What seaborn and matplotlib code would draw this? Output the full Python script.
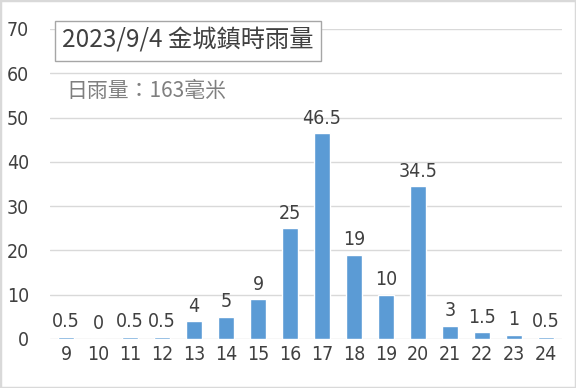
import matplotlib
matplotlib.use("Agg")
import matplotlib.pyplot as plt
from matplotlib import font_manager
from matplotlib.patches import Rectangle
import seaborn as sns
import pandas as pd

hours = ["9", "10", "11", "12", "13", "14", "15", "16",
         "17", "18", "19", "20", "21", "22", "23", "24"]
rain = [0.5, 0, 0.5, 0.5, 4, 5, 9, 25, 46.5, 19, 10, 34.5, 3, 1.5, 1, 0.5]
yticks = [0, 10, 20, 30, 40, 50, 60, 70]
title = "2023/9/4 金城鎮時雨量"
subtitle = "日雨量：163毫米"

df = pd.DataFrame({"hour": hours, "rain": rain})

sns.set_theme(style="white")
plt.rcParams["font.family"] = ["Noto Sans CJK TC", "DejaVu Sans"]

fonts = font_manager.fontManager.ttflist
names = {f.name for f in fonts}
if "Liberation Sans Narrow" in names:
    num_font = dict(family="Liberation Sans Narrow")
else:
    num_font = dict(family="DejaVu Sans", stretch="condensed")

text_col = "#404040"
fig = plt.figure(figsize=(5.76, 3.88), dpi=100)
ax = fig.add_axes([50 / 576, 1 - 339 / 388, 512 / 576, 310 / 388])

sns.barplot(data=df, x="hour", y="rain", color="#5B9BD5", width=0.5,
            saturation=1, ax=ax)
ax.bar_label(ax.containers[0], labels=[f"{v:g}" for v in rain], padding=4,
             color=text_col, fontsize=14, **num_font)

ax.set_ylim(0, 70)
ax.set_yticks(yticks)
ax.yaxis.grid(True, color="#D9D9D9", linewidth=1)
ax.set_axisbelow(True)
for s in ax.spines.values():
    s.set_visible(False)
ax.set_xlabel("")
ax.set_ylabel("")
ax.tick_params(axis="both", length=0, labelcolor=text_col)
ax.tick_params(axis="y", pad=15)
ax.tick_params(axis="x", pad=4)
for lab in ax.get_xticklabels() + ax.get_yticklabels():
    lab.set_fontproperties(font_manager.FontProperties(size=14, **num_font))

fig.text(188 / 576, 1 - 41 / 388, title, ha="center", va="center",
         fontsize=17.5, color=text_col,
         bbox=dict(boxstyle="square,pad=0.28", fc="white", ec="#A6A6A6", lw=1))
fig.text(66 / 576, 1 - 91 / 388, subtitle, ha="left", va="center",
         fontsize=15, color="#7F7F7F")

fig.patches.append(Rectangle((0, 0), 1, 1, transform=fig.transFigure,
                             fill=False, ec="#D9D9D9", lw=2.5))

fig.savefig("out.png", dpi=100)
